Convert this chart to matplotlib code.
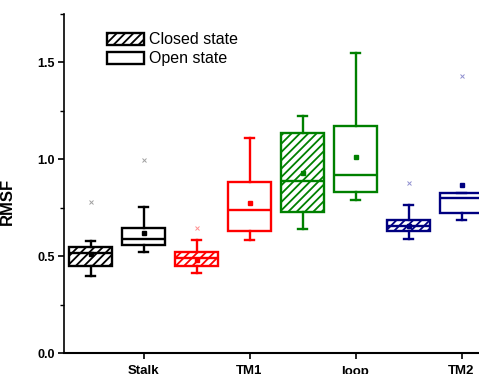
import matplotlib
matplotlib.use("Agg")
import matplotlib.pyplot as plt
from matplotlib.patches import Patch
from matplotlib.ticker import MultipleLocator

# box statistics (RMSF)
regions = ["Stalk", "TM1", "loop", "TM2"]
colors = ["black", "#FF0000", "#008000", "#000080"]
flier_colors = ["#A0A0A0", "#FF9090", "#9090D0", "#9090D0"]

closed_lo = [0.40, 0.412, 0.639, 0.586]
closed_q1 = [0.45, 0.45, 0.727, 0.629]
closed_med = [0.516, 0.49, 0.888, 0.655]
closed_q3 = [0.545, 0.52, 1.137, 0.686]
closed_hi = [0.577, 0.584, 1.222, 0.762]
closed_mean = [0.51, 0.48, 0.928, 0.655]
closed_out = [[0.778], [0.646], [], [0.88]]

open_lo = [0.522, 0.582, 0.789, 0.686]
open_q1 = [0.557, 0.629, 0.833, 0.725]
open_med = [0.588, 0.737, 0.918, 0.80]
open_q3 = [0.646, 0.881, 1.172, 0.828]
open_hi = [0.753, 1.108, 1.55, 0.828]
open_mean = [0.619, 0.775, 1.012, 0.869]
open_out = [[0.995], [], [], [1.43]]

plt.rcParams["font.family"] = ["Liberation Sans", "DejaVu Sans"]
plt.rcParams["hatch.linewidth"] = 1.3

fig = plt.figure(figsize=(4.79, 3.74), dpi=100)
ax = fig.add_axes([64 / 479, 21 / 374, 477 / 479, 339 / 374])


def stats(i, lo, q1, med, q3, hi, mean, out):
    return dict(whislo=lo[i], q1=q1[i], med=med[i], q3=q3[i], whishi=hi[i],
                mean=mean[i], fliers=out[i])


for i, c in enumerate(colors):
    pos = i + 1
    for offset, hatch, data in (
            (-0.5, "////", (closed_lo, closed_q1, closed_med, closed_q3,
                            closed_hi, closed_mean, closed_out)),
            (0.0, None, (open_lo, open_q1, open_med, open_q3,
                         open_hi, open_mean, open_out))):
        st = stats(i, *data)
        ax.bxp([st], positions=[pos + offset], widths=0.4, capwidths=0.08,
               patch_artist=True, showmeans=True, showfliers=True,
               boxprops=dict(facecolor="white", edgecolor=c, hatch=hatch, lw=1.7),
               medianprops=dict(color=c, lw=1.7),
               whiskerprops=dict(color=c, lw=1.7),
               capprops=dict(color=c, lw=1.7),
               meanprops=dict(marker="s", markersize=2.8, markerfacecolor=c,
                              markeredgecolor=c),
               flierprops=dict(marker="x", markersize=3.5, markeredgewidth=0.7,
                               markeredgecolor=flier_colors[i]))

ax.set_xlim(0.25, 4.75)
ax.set_ylim(0, 1.75)
ax.set_xticks(range(1, 5))
ax.set_xticklabels(regions, fontweight="bold", fontsize=9.5)
ax.yaxis.set_major_locator(MultipleLocator(0.5))
ax.yaxis.set_minor_locator(MultipleLocator(0.25))
ax.set_yticks([0, 0.5, 1.0, 1.5])
ax.set_yticklabels(["0.0", "0.5", "1.0", "1.5"], fontweight="bold", fontsize=9)
ax.tick_params(axis="both", which="major", length=4.5, width=1.2, pad=2)
ax.tick_params(axis="x", which="major", pad=4.5)
ax.tick_params(axis="y", which="minor", length=3, width=1.0)
ax.tick_params(axis="x", which="minor", bottom=False)
for s in ("top", "right"):
    ax.spines[s].set_visible(False)
ax.spines["left"].set_linewidth(1.2)
ax.spines["bottom"].set_linewidth(1.5)

ax.set_ylabel("RMSF", fontweight="bold", fontsize=12)
ax.yaxis.set_label_coords(-0.103, 0.448)

handles = [Patch(facecolor="white", edgecolor="black", hatch="////", lw=1.7),
           Patch(facecolor="white", edgecolor="black", lw=1.7)]
ax.legend(handles, ["Closed state", "Open state"], loc="upper left",
          bbox_to_anchor=(0.061, 0.988), frameon=False, fontsize=11.5,
          handlelength=2.3, handleheight=0.85, handletextpad=0.3,
          labelspacing=0.25, borderaxespad=0.5)

fig.savefig("out.png", dpi=100)
